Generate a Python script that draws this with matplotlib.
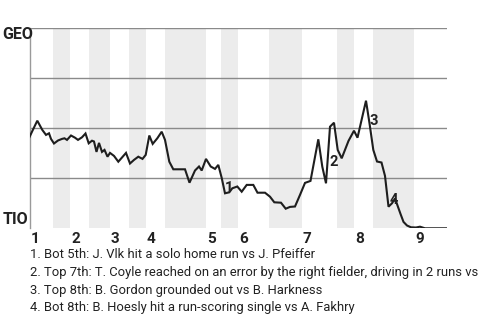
import matplotlib
matplotlib.use("Agg")
import matplotlib.pyplot as plt

plt.rcParams['font.family'] = ['Roboto', 'DejaVu Sans']
narrow = ['Liberation Sans Narrow', 'Roboto', 'DejaVu Sans']

# play position along the game, and GEO win probability (%)
play_x = [0, 2.5, 7.8, 12.8, 16.5, 19.5, 21.5, 24.5, 28.5, 32.5, 35, 37.5, 41.5, 45.5,
          48.5, 52.5, 56, 59.2, 62.5, 64.5, 67, 69.5, 72.5, 75, 78, 80.5, 84.5, 88.8,
          92.5, 96.5, 100.5, 104.5, 108.8, 113, 116.2, 119.8, 123.2, 127.8, 132.2,
          135.5, 139.8, 143.8, 155.5, 160, 165.5, 169.5, 172.2, 176.5, 181.2, 185.5,
          188.8, 192.2, 195.5, 199.8, 202.8, 207.8, 212.2, 217.2, 223.8, 228, 235.5,
          240.5, 244.8, 251.5, 256.2, 260.5, 265.5, 270.5, 275.5, 281, 288.8, 292.8,
          296.5, 300.5, 304.5, 308.2, 312.2, 319, 324.5, 328, 336.5, 340, 343.8,
          347.5, 352, 355.5, 359, 362.5, 365.5, 367.8, 371, 374, 377.5, 381.5, 386.5,
          390.5, 395.5, 417]
win_prob = [45.6, 48.3, 53.8, 49.2, 46.7, 47.5, 44.7, 42.4, 43.9, 44.7, 45.0, 44.2, 46.4,
            45.3, 44.2, 45.5, 47.4, 42.5, 43.8, 43.4, 38.2, 42.7, 38.2, 39.2, 35.8, 37.7,
            36.2, 33.3, 35.4, 37.7, 32.4, 34.2, 35.8, 34.7, 36.7, 46.4, 42.2, 45.0, 48.3,
            44.2, 33.3, 29.5, 29.5, 22.8, 28.9, 30.9, 28.9, 34.7, 30.9, 29.7, 31.7, 25.2,
            17.5, 18.0, 20.0, 20.9, 18.3, 21.7, 21.7, 17.8, 17.8, 15.8, 13.0, 12.8, 9.8,
            10.7, 10.9, 16.7, 22.7, 23.7, 44.5, 30.8, 22.5, 50.8, 52.8, 39.2, 35.0, 43.7,
            48.8, 45.3, 63.8, 52.5, 39.2, 33.4, 32.9, 26.2, 10.8, 12.5, 14.9, 11.7, 7.2,
            3.2, 1.4, 0.5, 0.4, 0.8, 0.0, 0.0]

inning_labels = ['1', '2', '3', '4', '5', '6', '7', '8', '9']
inning_start = [0, 40.5, 80.5, 116.5, 176.5, 208.5, 272.5, 324.5, 384.5]
bottom_start = [23.5, 59.5, 99.5, 135.5, 191.5, 239.5, 307.5, 343.5]
game_end = 417

# key plays: (label, x, y)
key_labels = ['1', '2', '3', '4']
key_x = [199.5, 304.5, 344, 364]
key_y = [20, 33, 53.5, 14]
key_text = [
    "1. Bot 5th: J. Vlk hit a solo home run vs J. Pfeiffer",
    "2. Top 7th: T. Coyle reached on an error by the right fielder, driving in 2 runs vs",
    "3. Top 8th: B. Gordon grounded out vs B. Harkness",
    "4. Bot 8th: B. Hoesly hit a run-scoring single vs A. Fakhry",
]

fig = plt.figure(figsize=(4.8, 3.2), dpi=100)
ax = fig.add_axes([29.5 / 480, 1 - 228.3 / 320, 417 / 480, 200 / 320])
ax.set_xlim(0, game_end)
ax.set_ylim(0, 100)

# shade bottom halves of innings
ends = inning_start[1:] + [game_end]
for b, e in zip(bottom_start, ends):
    ax.axvspan(b, e, color='#ececec', lw=0, zorder=0)

for v in [25, 50, 75, 100]:
    ax.axhline(v, color='#8a8a8a', lw=1, zorder=1)

ax.plot(play_x, win_prob, color='#1e1e1e', lw=1.5, zorder=3, solid_joinstyle='miter')

for s in ['top', 'right', 'bottom']:
    ax.spines[s].set_visible(False)
ax.spines['left'].set_color('#9a9a9a')
ax.spines['left'].set_linewidth(1)
ax.set_xticks([])
ax.set_yticks([])

for lab, x, y in zip(key_labels, key_x, key_y):
    ax.text(x, y, lab, fontsize=10.5, fontweight='bold', color='#222222', family=narrow,
            ha='center', va='center', zorder=4)

for lab, x in zip(inning_labels, inning_start):
    ax.text(x + 1, -2.0, lab, fontsize=11, fontweight='bold', color='#222222', family=narrow,
            ha='left', va='top', clip_on=False)

fig.text(2.5 / 480, 1 - 34.5 / 320, 'GEO', fontsize=11.5, fontweight='bold', family=narrow,
         color='#222222', ha='left', va='center')
fig.text(2.5 / 480, 1 - 220 / 320, 'TIO', fontsize=11.5, fontweight='bold', family=narrow,
         color='#222222', ha='left', va='center')

for i, t in enumerate(key_text):
    fig.text(30 / 480, 1 - (255 + i * 17.6) / 320, t, fontsize=9.4,
             color='#222222', ha='left', va='center')

fig.savefig('out.png', dpi=100)
